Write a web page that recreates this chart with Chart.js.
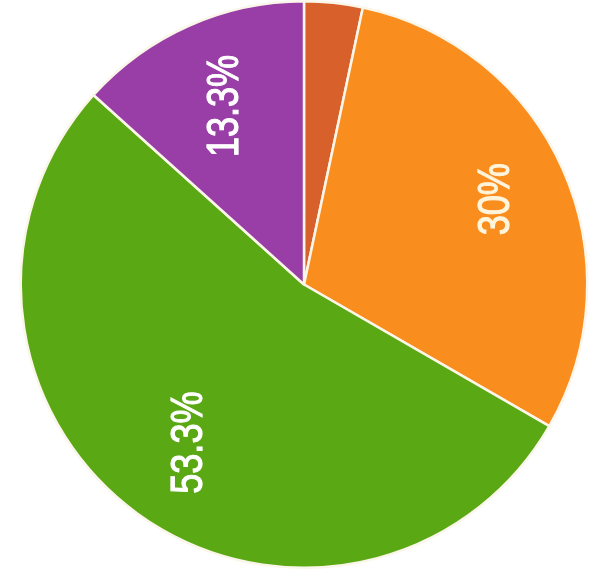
<!DOCTYPE html>
<html>
<head>
<meta charset="utf-8">
<script src="https://cdn.jsdelivr.net/npm/chart.js@4"></script>
<style>
html,body{margin:0;padding:0;background:#fff;}
#wrap{position:relative;width:594px;height:573px;}
</style>
</head>
<body>
<div id="wrap"><canvas id="c"></canvas></div>
<script>
const categories = ['A', 'B', 'C', 'D'];
const values = [1, 9, 16, 4];
const labelsText = ['', '30%', '53.3%', '13.3%'];

const colors = ['#d8602a', '#f98e1f', '#5aa814', '#983ea6'];
const labelColors = ['#ffffff', '#fff4dc', '#ffffff', '#ffffff'];
const labelRadius = [0.7, 0.74, 0.69, 0.69];

const sliceLabels = {
  id: 'sliceLabels',
  afterDatasetsDraw(chart) {
    const ctx = chart.ctx;
    const meta = chart.getDatasetMeta(0);
    meta.data.forEach((arc, i) => {
      const txt = labelsText[i];
      if (!txt) return;
      const p = arc.getProps(['x', 'y', 'startAngle', 'endAngle', 'outerRadius'], true);
      const mid = (p.startAngle + p.endAngle) / 2;
      const r = p.outerRadius * labelRadius[i];
      const x = p.x + Math.cos(mid) * r;
      const y = p.y + Math.sin(mid) * r;
      ctx.save();
      ctx.translate(x, y);
      ctx.rotate(-Math.PI / 2);
      ctx.scale(0.82, 1);
      ctx.font = '44px "Liberation Sans", Arial, sans-serif';
      ctx.fillStyle = labelColors[i];
      ctx.strokeStyle = labelColors[i];
      ctx.lineWidth = 1.2;
      ctx.textAlign = 'center';
      ctx.textBaseline = 'middle';
      ctx.fillText(txt, 0, 1);
      ctx.strokeText(txt, 0, 1);
      ctx.restore();
    });
  }
};

new Chart(document.getElementById('c'), {
  type: 'pie',
  data: {
    labels: categories,
    datasets: [{
      data: values,
      backgroundColor: colors,
      borderColor: '#fbf6ea',
      borderWidth: 2.5
    }]
  },
  options: {
    responsive: true,
    maintainAspectRatio: false,
    animation: false,
    layout: { padding: { left: 17, right: 3, top: 0, bottom: 4 } },
    plugins: {
      legend: { display: false },
      tooltip: { enabled: false }
    }
  },
  plugins: [sliceLabels]
});
</script>
</body>
</html>
